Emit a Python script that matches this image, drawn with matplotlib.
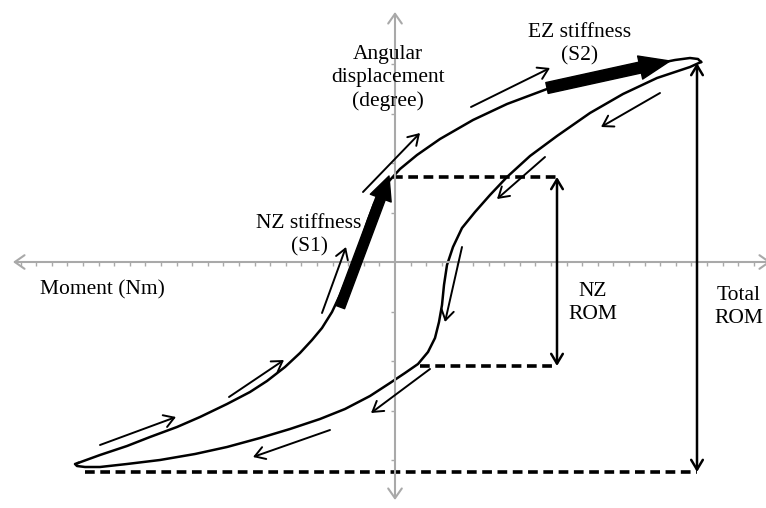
import numpy as np
import matplotlib
matplotlib.use("Agg")
import matplotlib.pyplot as plt

plt.rcParams['font.family'] = ['Liberation Serif', 'DejaVu Serif']
plt.rcParams['lines.scale_dashes'] = False

# hysteresis loop, in picture units measured from the axis crossing (x right, y up)
loading_x = [-317, -295, -268, -245, -218, -195, -168, -145, -128, -110, -95, -83, -73, -63,
             -55, -50, -45, -39, -33, -27, -21, -14, -5, 5, 22, 45, 78, 112, 152, 185, 225,
             255, 280, 295, 303, 306]
loading_y = [-201, -193, -184, -175, -165, -155, -142, -130, -119, -105, -91, -78, -66, -50,
             -33, -21, -10, 6, 24, 42, 58, 71, 82, 93, 107, 123, 142, 158, 173, 182, 191,
             197, 202, 204, 203, 200]
unloading_x = [306, 295, 262, 228, 195, 162, 135, 112, 95, 80, 67, 58, 52, 49, 47, 44, 40,
               33, 23, 10, -5, -25, -50, -75, -105, -135, -168, -200, -235, -268, -295,
               -310, -318, -320, -317]
unloading_y = [200, 195, 184, 168, 149, 126, 106, 85, 67, 50, 34, 15, -3, -23, -43, -60, -76,
               -90, -102, -111, -121, -134, -147, -157, -167, -176, -185, -192, -198, -202,
               -205, -205, -204, -202, -201]

# direction arrows (tail -> head)
flow_tail = [(-295, -183), (-166, -135), (-73, -51), (-32, 70), (76, 155),
             (265, 169), (150, 105), (67, 15), (35, -107), (-65, -168)]
flow_head = [(-219, -155), (-111, -98), (-49, 15), (25, 129), (155, 194),
             (206, 135), (102, 63), (50, -60), (-24, -151), (-142, -195)]

# stiffness arrows
s1_tail, s1_head = (-55, -45), (-6, 86)
s2_tail, s2_head = (152, 174), (275, 201)

# range of motion markers
nz_top, nz_bottom = 85, -104
total_top, total_bottom = 199, -210
nz_x, total_x = 162, 302

fig = plt.figure(figsize=(7.66, 5.08), dpi=100)
ax = fig.add_axes([0, 0, 1, 1])
ax.set_xlim(-395, 371)
ax.set_ylim(-246, 262)
ax.axis('off')

grey = '#a9a9a9'
# axes with arrow heads
ax.annotate('', xy=(376, 0), xytext=(-382, 0), annotation_clip=False,
            arrowprops=dict(arrowstyle='<->,head_length=0.5,head_width=0.35', color=grey,
                            lw=1.5, shrinkA=0, shrinkB=0, mutation_scale=14))
ax.annotate('', xy=(0, 250), xytext=(0, -238), annotation_clip=False,
            arrowprops=dict(arrowstyle='<->,head_length=0.5,head_width=0.35', color=grey,
                            lw=1.5, shrinkA=0, shrinkB=0, mutation_scale=14))
xt = np.arange(-24, 24) * 15.6
ax.vlines(xt[xt != 0], -4, 0, color=grey, lw=1)
yt = np.arange(-4, 5) * 49.5
ax.hlines(yt[yt != 0], -4, 0, color=grey, lw=1)

# dashed guide lines
dash = dict(color='black', lw=2.6, linestyle=(0, (7, 4)))
ax.plot([-2, 165], [nz_top, nz_top], **dash)
ax.plot([25, 160], [nz_bottom, nz_bottom], **dash)
ax.plot([-310, 302], [total_bottom, total_bottom], **dash)

# loop
ax.plot(loading_x, loading_y, color='black', lw=1.8, solid_joinstyle='round')
ax.plot(unloading_x, unloading_y, color='black', lw=1.8, solid_joinstyle='round')

for t, h in zip(flow_tail, flow_head):
    ax.annotate('', xy=h, xytext=t,
                arrowprops=dict(arrowstyle='->,head_length=0.4,head_width=0.25', color='black',
                                lw=1.4, shrinkA=0, shrinkB=0, mutation_scale=18))

ax.annotate('', xy=s1_head, xytext=s1_tail,
            arrowprops=dict(arrowstyle='simple,head_length=17,head_width=16,tail_width=7',
                            color='black', shrinkA=0, shrinkB=0, mutation_scale=1))
ax.annotate('', xy=s2_head, xytext=s2_tail,
            arrowprops=dict(arrowstyle='simple,head_length=22,head_width=17,tail_width=8',
                            color='black', shrinkA=0, shrinkB=0, mutation_scale=1))

# ROM double arrows
for x, top, bot in [(nz_x, nz_top, nz_bottom), (total_x, total_top, total_bottom)]:
    ax.annotate('', xy=(x, top), xytext=(x, bot),
                arrowprops=dict(arrowstyle='<->,head_length=0.5,head_width=0.3', color='black',
                                lw=1.8, shrinkA=0, shrinkB=0, mutation_scale=14))

fs = 15.5
ls = 1.32
ax.text(-355, -28, 'Moment (Nm)', fontsize=fs, ha='left', va='center')
ax.text(-7, 184, 'Angular\ndisplacement\n(degree)', fontsize=fs, ha='center', va='center',
        linespacing=ls)
ax.text(185, 218, 'EZ stiffness\n(S2)', fontsize=fs, ha='center', va='center', linespacing=ls)
ax.text(-86, 27, 'NZ stiffness\n(S1)', fontsize=fs, ha='center', va='center', linespacing=ls)
ax.text(198, -41, 'NZ\nROM', fontsize=fs, ha='center', va='center', linespacing=ls)
ax.text(344, -45, 'Total\nROM', fontsize=fs, ha='center', va='center', linespacing=ls)

fig.savefig('out.png', dpi=100)
